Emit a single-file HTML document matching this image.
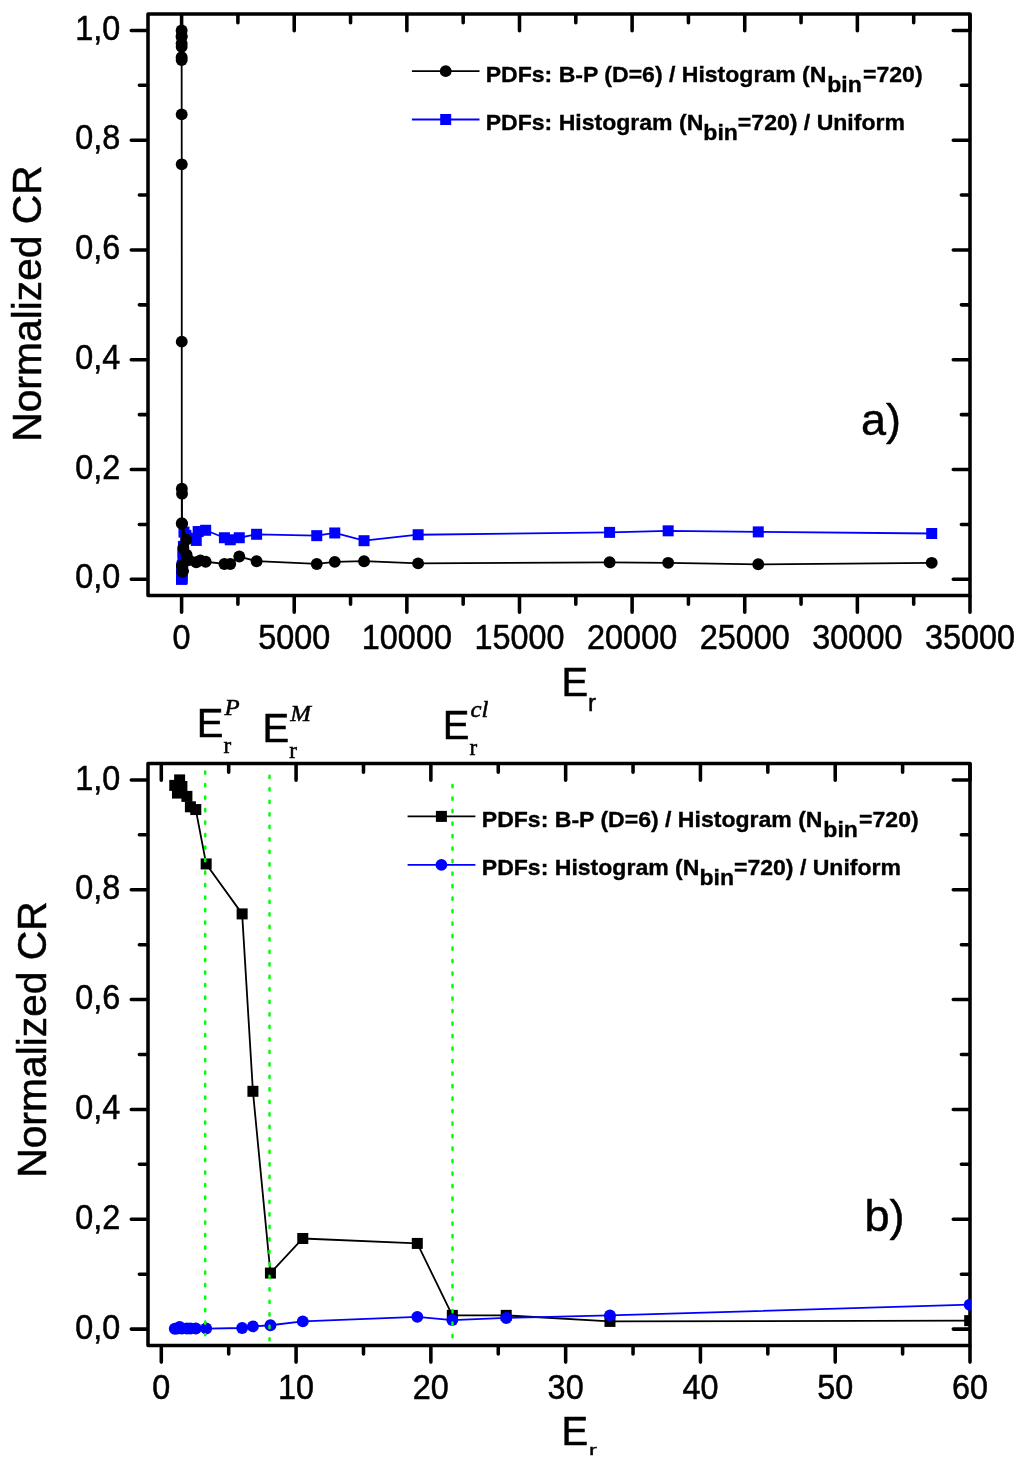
<!DOCTYPE html>
<html lang="en"><head><meta charset="utf-8"><title>Normalized CR vs E_r</title>
<style>html,body{margin:0;padding:0;background:#fff}svg{display:block}</style></head><body>
<svg width="1024" height="1462" viewBox="0 0 1024 1462">
<rect width="1024" height="1462" fill="#fff"/>
<defs><clipPath id="c1"><rect x="148.0" y="14.05" width="822.0" height="581.45"/></clipPath>
<clipPath id="c2"><rect x="148.0" y="763.5" width="822.9" height="581.9000000000001"/></clipPath></defs>
<g clip-path="url(#c1)">
<polyline points="181.62,578.92 181.63,578.75 181.63,577.1 181.63,578.75 181.64,578.75 181.65,578.75 181.66,578.75 181.68,578.75 181.74,578.2 181.75,576.56 181.78,575.46 181.84,571.62 182.03,567.06 182.09,570.24 182.18,568.16 182.35,565.58 182.95,554.93 183.13,551.85 183.42,546.37 183.97,532.09 185.88,535.39 187.37,538.13 196.24,540.44 198.16,531.55 205.66,530.28 224.4,537.75 230.26,539.78 239.27,537.75 256.61,534.29 316.75,535.66 334.77,532.97 364.06,540.71 418.12,534.73 609.59,532.37 668.16,530.83 758.26,531.88 931.71,533.52" fill="none" stroke="#0000ff" stroke-width="1.8" stroke-linejoin="round"/>
<g fill="#0000ff"><rect x="176.12" y="573.42" width="11" height="11"/><rect x="176.13" y="573.25" width="11" height="11"/><rect x="176.13" y="571.6" width="11" height="11"/><rect x="176.13" y="573.25" width="11" height="11"/><rect x="176.14" y="573.25" width="11" height="11"/><rect x="176.15" y="573.25" width="11" height="11"/><rect x="176.16" y="573.25" width="11" height="11"/><rect x="176.18" y="573.25" width="11" height="11"/><rect x="176.24" y="572.7" width="11" height="11"/><rect x="176.25" y="571.06" width="11" height="11"/><rect x="176.28" y="569.96" width="11" height="11"/><rect x="176.34" y="566.12" width="11" height="11"/><rect x="176.53" y="561.56" width="11" height="11"/><rect x="176.59" y="564.74" width="11" height="11"/><rect x="176.68" y="562.66" width="11" height="11"/><rect x="176.85" y="560.08" width="11" height="11"/><rect x="177.45" y="549.43" width="11" height="11"/><rect x="177.63" y="546.35" width="11" height="11"/><rect x="177.92" y="540.87" width="11" height="11"/><rect x="178.47" y="526.59" width="11" height="11"/><rect x="180.38" y="529.89" width="11" height="11"/><rect x="181.87" y="532.63" width="11" height="11"/><rect x="190.74" y="534.94" width="11" height="11"/><rect x="192.66" y="526.05" width="11" height="11"/><rect x="200.16" y="524.78" width="11" height="11"/><rect x="218.9" y="532.25" width="11" height="11"/><rect x="224.76" y="534.28" width="11" height="11"/><rect x="233.77" y="532.25" width="11" height="11"/><rect x="251.11" y="528.79" width="11" height="11"/><rect x="311.25" y="530.16" width="11" height="11"/><rect x="329.27" y="527.47" width="11" height="11"/><rect x="358.56" y="535.21" width="11" height="11"/><rect x="412.62" y="529.23" width="11" height="11"/><rect x="604.09" y="526.87" width="11" height="11"/><rect x="662.66" y="525.33" width="11" height="11"/><rect x="752.76" y="526.38" width="11" height="11"/><rect x="926.21" y="528.02" width="11" height="11"/></g>
</g>
<g clip-path="url(#c1)">
<polyline points="181.62,35.89 181.63,43.57 181.63,30.4 181.63,36.99 181.64,46.87 181.65,57.3 181.66,60.04 181.68,114.38 181.74,164.33 181.75,341.63 181.78,523.31 181.84,488.73 182.03,493.67 182.09,565.58 182.18,565.58 182.35,571.62 182.95,570.85 182.39,566.4 183.36,548.01 182.05,523.86 186.24,539.78 186.56,554.6 182.61,571.62 189.1,560.09 196.24,562.28 200.41,560.36 205.66,561.74 224.4,563.93 230.26,563.93 239.27,556.52 256.61,561.19 316.75,563.93 334.77,561.84 364.06,561.19 418.12,563.38 609.59,562.28 668.16,562.83 758.26,564.32 931.71,562.83" fill="none" stroke="#000" stroke-width="1.8" stroke-linejoin="round"/>
<g fill="#000"><circle cx="181.62" cy="35.89" r="5.95"/><circle cx="181.63" cy="43.57" r="5.95"/><circle cx="181.63" cy="30.4" r="5.95"/><circle cx="181.63" cy="36.99" r="5.95"/><circle cx="181.64" cy="46.87" r="5.95"/><circle cx="181.65" cy="57.3" r="5.95"/><circle cx="181.66" cy="60.04" r="5.95"/><circle cx="181.68" cy="114.38" r="5.95"/><circle cx="181.74" cy="164.33" r="5.95"/><circle cx="181.75" cy="341.63" r="5.95"/><circle cx="181.78" cy="523.31" r="5.95"/><circle cx="181.84" cy="488.73" r="5.95"/><circle cx="182.03" cy="493.67" r="5.95"/><circle cx="182.09" cy="565.58" r="5.95"/><circle cx="182.18" cy="565.58" r="5.95"/><circle cx="182.35" cy="571.62" r="5.95"/><circle cx="182.95" cy="570.85" r="5.95"/><circle cx="182.39" cy="566.4" r="5.95"/><circle cx="183.36" cy="548.01" r="5.95"/><circle cx="182.05" cy="523.86" r="5.95"/><circle cx="186.24" cy="539.78" r="5.95"/><circle cx="186.56" cy="554.6" r="5.95"/><circle cx="182.61" cy="571.62" r="5.95"/><circle cx="189.1" cy="560.09" r="5.95"/><circle cx="196.24" cy="562.28" r="5.95"/><circle cx="200.41" cy="560.36" r="5.95"/><circle cx="205.66" cy="561.74" r="5.95"/><circle cx="224.4" cy="563.93" r="5.95"/><circle cx="230.26" cy="563.93" r="5.95"/><circle cx="239.27" cy="556.52" r="5.95"/><circle cx="256.61" cy="561.19" r="5.95"/><circle cx="316.75" cy="563.93" r="5.95"/><circle cx="334.77" cy="561.84" r="5.95"/><circle cx="364.06" cy="561.19" r="5.95"/><circle cx="418.12" cy="563.38" r="5.95"/><circle cx="609.59" cy="562.28" r="5.95"/><circle cx="668.16" cy="562.83" r="5.95"/><circle cx="758.26" cy="564.32" r="5.95"/><circle cx="931.71" cy="562.83" r="5.95"/></g>
</g>
<rect x="148" y="14.05" width="822" height="581.45" fill="none" stroke="#000" stroke-width="3.55" stroke-linejoin="round"/>
<path d="M147.4 579.3h-16.12M969.4 579.3h-16.12M147.4 469.52h-16.12M969.4 469.52h-16.12M147.4 359.74h-16.12M969.4 359.74h-16.12M147.4 249.96h-16.12M969.4 249.96h-16.12M147.4 140.18h-16.12M969.4 140.18h-16.12M147.4 30.4h-16.12M969.4 30.4h-16.12M147.4 524.41h-8.03M969.4 524.41h-8.03M147.4 414.63h-8.03M969.4 414.63h-8.03M147.4 304.85h-8.03M969.4 304.85h-8.03M147.4 195.07h-8.03M969.4 195.07h-8.03M147.4 85.29h-8.03M969.4 85.29h-8.03M181.6 596.1v16.12M181.6 14.65v16.12M294.23 596.1v16.12M294.23 14.65v16.12M406.86 596.1v16.12M406.86 14.65v16.12M519.49 596.1v16.12M519.49 14.65v16.12M632.11 596.1v16.12M632.11 14.65v16.12M744.74 596.1v16.12M744.74 14.65v16.12M857.37 596.1v16.12M857.37 14.65v16.12M970 596.1v16.12M970 14.65v16.12M237.91 596.1v8.03M237.91 14.65v8.03M350.54 596.1v8.03M350.54 14.65v8.03M463.17 596.1v8.03M463.17 14.65v8.03M575.8 596.1v8.03M575.8 14.65v8.03M688.43 596.1v8.03M688.43 14.65v8.03M801.06 596.1v8.03M801.06 14.65v8.03M913.69 596.1v8.03M913.69 14.65v8.03" fill="none" stroke="#000" stroke-width="3.55" stroke-linecap="round"/>
<g font-family='"Liberation Sans", Arial, Helvetica, sans-serif' font-size="34.2" fill="#000" stroke="#000" stroke-width=".5">
<g text-anchor="end">
<text transform="translate(120.2 588.4) scale(.948 1)">0,0</text>
<text transform="translate(120.2 478.62) scale(.948 1)">0,2</text>
<text transform="translate(120.2 368.84) scale(.948 1)">0,4</text>
<text transform="translate(120.2 259.06) scale(.948 1)">0,6</text>
<text transform="translate(120.2 149.28) scale(.948 1)">0,8</text>
<text transform="translate(120.2 39.5) scale(.948 1)">1,0</text>
</g><g text-anchor="middle">
<text transform="translate(181.6 649.2) scale(.948 1)">0</text>
<text transform="translate(294.23 649.2) scale(.948 1)">5000</text>
<text transform="translate(406.86 649.2) scale(.948 1)">10000</text>
<text transform="translate(519.49 649.2) scale(.948 1)">15000</text>
<text transform="translate(632.11 649.2) scale(.948 1)">20000</text>
<text transform="translate(744.74 649.2) scale(.948 1)">25000</text>
<text transform="translate(857.37 649.2) scale(.948 1)">30000</text>
<text transform="translate(970 649.2) scale(.948 1)">35000</text>
</g></g>
<line x1="411.9" y1="71.2" x2="479.5" y2="71.2" stroke="#000" stroke-width="1.8"/>
<circle cx="445.7" cy="71.2" r="5.9" fill="#000"/>
<line x1="411.9" y1="119.5" x2="479.5" y2="119.5" stroke="#0000ff" stroke-width="1.8"/>
<rect x="440.2" y="114" width="11" height="11" fill="#0000ff"/>
<g font-family='"Liberation Sans", Arial, Helvetica, sans-serif' font-size="22.6" font-weight="bold" fill="#000" stroke="#000" stroke-width=".35">
<text transform="translate(485.7 81.7) scale(1.02 1)">PDFs: B-P (D=6) / Histogram (N<tspan dy="10" dx="0.8">bin</tspan><tspan dy="-10" dx="1.2">=720)</tspan></text>
<text transform="translate(485.7 130.1) scale(1.02 1)">PDFs: Histogram (N<tspan dy="10">bin</tspan><tspan dy="-10">=720) / Uniform</tspan></text>
</g>
<rect x="148" y="763.5" width="822" height="581.9" fill="none" stroke="#000" stroke-width="3.55" stroke-linejoin="round"/>
<path d="M147.4 1329.1h-16.12M969.4 1329.1h-16.12M147.4 1219.26h-16.12M969.4 1219.26h-16.12M147.4 1109.42h-16.12M969.4 1109.42h-16.12M147.4 999.58h-16.12M969.4 999.58h-16.12M147.4 889.74h-16.12M969.4 889.74h-16.12M147.4 779.9h-16.12M969.4 779.9h-16.12M147.4 1274.18h-8.03M969.4 1274.18h-8.03M147.4 1164.34h-8.03M969.4 1164.34h-8.03M147.4 1054.5h-8.03M969.4 1054.5h-8.03M147.4 944.66h-8.03M969.4 944.66h-8.03M147.4 834.82h-8.03M969.4 834.82h-8.03M161.3 1346v16.12M161.3 764.1v16.12M296.08 1346v16.12M296.08 764.1v16.12M430.87 1346v16.12M430.87 764.1v16.12M565.65 1346v16.12M565.65 764.1v16.12M700.43 1346v16.12M700.43 764.1v16.12M835.22 1346v16.12M835.22 764.1v16.12M970 1346v16.12M970 764.1v16.12M228.69 1346v8.03M228.69 764.1v8.03M363.48 1346v8.03M363.48 764.1v8.03M498.26 1346v8.03M498.26 764.1v8.03M633.04 1346v8.03M633.04 764.1v8.03M767.83 1346v8.03M767.83 764.1v8.03M902.61 1346v8.03M902.61 764.1v8.03" fill="none" stroke="#000" stroke-width="3.55" stroke-linecap="round"/>
<g font-family='"Liberation Sans", Arial, Helvetica, sans-serif' font-size="34.2" fill="#000" stroke="#000" stroke-width=".5">
<g text-anchor="end">
<text transform="translate(120.2 1338.7) scale(.948 1)">0,0</text>
<text transform="translate(120.2 1228.86) scale(.948 1)">0,2</text>
<text transform="translate(120.2 1119.02) scale(.948 1)">0,4</text>
<text transform="translate(120.2 1009.18) scale(.948 1)">0,6</text>
<text transform="translate(120.2 899.34) scale(.948 1)">0,8</text>
<text transform="translate(120.2 789.5) scale(.948 1)">1,0</text>
</g><g text-anchor="middle">
<text transform="translate(161.3 1399.3) scale(.948 1)">0</text>
<text transform="translate(296.08 1399.3) scale(.948 1)">10</text>
<text transform="translate(430.87 1399.3) scale(.948 1)">20</text>
<text transform="translate(565.65 1399.3) scale(.948 1)">30</text>
<text transform="translate(700.43 1399.3) scale(.948 1)">40</text>
<text transform="translate(835.22 1399.3) scale(.948 1)">50</text>
<text transform="translate(970 1399.3) scale(.948 1)">60</text>
</g></g>
<g clip-path="url(#c2)">
<polyline points="174.77,785.39 177.47,793.08 179.62,779.9 181.91,786.49 186.9,796.38 190.4,806.81 195.79,809.56 206.17,863.93 242.14,913.9 252.92,1091.3 270.43,1273.08 302.77,1238.48 417.29,1243.42 452.32,1315.37 506.22,1315.37 609.96,1321.41 969.7,1320.64" fill="none" stroke="#000" stroke-width="1.8" stroke-linejoin="round"/>
<g fill="#000"><rect x="169.27" y="779.89" width="11" height="11"/><rect x="171.97" y="787.58" width="11" height="11"/><rect x="174.12" y="774.4" width="11" height="11"/><rect x="176.41" y="780.99" width="11" height="11"/><rect x="181.4" y="790.88" width="11" height="11"/><rect x="184.9" y="801.31" width="11" height="11"/><rect x="190.29" y="804.06" width="11" height="11"/><rect x="200.67" y="858.43" width="11" height="11"/><rect x="236.64" y="908.4" width="11" height="11"/><rect x="247.42" y="1085.8" width="11" height="11"/><rect x="264.93" y="1267.58" width="11" height="11"/><rect x="297.27" y="1232.98" width="11" height="11"/><rect x="411.79" y="1237.92" width="11" height="11"/><rect x="446.82" y="1309.87" width="11" height="11"/><rect x="500.72" y="1309.87" width="11" height="11"/><rect x="604.46" y="1315.91" width="11" height="11"/><rect x="964.2" y="1315.14" width="11" height="11"/></g>
</g>
<g clip-path="url(#c2)">
<polyline points="174.77,1328.72 177.47,1328.55 179.62,1326.9 181.91,1328.55 186.9,1328.55 190.4,1328.55 195.79,1328.55 206.17,1328.55 242.14,1328 252.92,1326.35 270.43,1325.26 302.77,1321.41 417.29,1316.85 452.32,1320.04 506.22,1317.95 609.96,1315.37 969.7,1304.72" fill="none" stroke="#0000ff" stroke-width="1.8" stroke-linejoin="round"/>
<g fill="#0000ff"><circle cx="174.77" cy="1328.72" r="5.95"/><circle cx="177.47" cy="1328.55" r="5.95"/><circle cx="179.62" cy="1326.9" r="5.95"/><circle cx="181.91" cy="1328.55" r="5.95"/><circle cx="186.9" cy="1328.55" r="5.95"/><circle cx="190.4" cy="1328.55" r="5.95"/><circle cx="195.79" cy="1328.55" r="5.95"/><circle cx="206.17" cy="1328.55" r="5.95"/><circle cx="242.14" cy="1328" r="5.95"/><circle cx="252.92" cy="1326.35" r="5.95"/><circle cx="270.43" cy="1325.26" r="5.95"/><circle cx="302.77" cy="1321.41" r="5.95"/><circle cx="417.29" cy="1316.85" r="5.95"/><circle cx="452.32" cy="1320.04" r="5.95"/><circle cx="506.22" cy="1317.95" r="5.95"/><circle cx="609.96" cy="1315.37" r="5.95"/><circle cx="969.7" cy="1304.72" r="5.95"/></g>
</g>
<line x1="407.6" y1="816.4" x2="475.4" y2="816.4" stroke="#000" stroke-width="1.8"/>
<rect x="435.9" y="810.9" width="11" height="11" fill="#000"/>
<line x1="407.6" y1="864.8" x2="475.4" y2="864.8" stroke="#0000ff" stroke-width="1.8"/>
<circle cx="441.4" cy="864.8" r="5.9" fill="#0000ff"/>
<g font-family='"Liberation Sans", Arial, Helvetica, sans-serif' font-size="22.6" font-weight="bold" fill="#000" stroke="#000" stroke-width=".35">
<text transform="translate(481.8 826.5) scale(1.02 1)">PDFs: B-P (D=6) / Histogram (N<tspan dy="10" dx="0.8">bin</tspan><tspan dy="-10" dx="1.2">=720)</tspan></text>
<text transform="translate(481.8 874.9) scale(1.02 1)">PDFs: Histogram (N<tspan dy="10">bin</tspan><tspan dy="-10">=720) / Uniform</tspan></text>
</g>
<line x1="205.2" y1="771.45" x2="205.2" y2="1335.25" stroke="#00ff00" stroke-width="2.5" stroke-linecap="round" stroke-dasharray="2.3 10.2"/>
<line x1="269.5" y1="775.65" x2="269.5" y2="1340.25" stroke="#00ff00" stroke-width="2.5" stroke-linecap="round" stroke-dasharray="2.3 10.2"/>
<line x1="452.5" y1="785.05" x2="452.5" y2="1338.25" stroke="#00ff00" stroke-width="2.5" stroke-linecap="round" stroke-dasharray="2.3 10.2"/>
<g font-family='"Liberation Sans", Arial, Helvetica, sans-serif' fill="#000" stroke="#000" stroke-width=".5">
<text transform="translate(40.6 303.5) rotate(-90)" text-anchor="middle" font-size="40.8">Normalized CR</text>
<text transform="translate(46.4 1039.5) rotate(-90)" text-anchor="middle" font-size="40.8">Normalized CR</text>
<text x="861" y="434.5" font-size="45">a)</text>
<text x="864.6" y="1230.7" font-size="45">b)</text>
<text x="561.4" y="695.8" font-size="40">E<tspan dy="15" font-size="24">r</tspan></text>
<text x="561.4" y="1444.8" font-size="40">E</text>
<text transform="translate(588.9 1455.4) scale(1 0.575)" font-size="24">r</text>
<text x="196.8" y="736.9" font-size="40">E</text>
<text x="223.6" y="752.5" font-size="23" font-family='"Liberation Serif", "Times New Roman", Times, serif'>r</text>
<text transform="translate(224.6 715.1) scale(1.08 1)" font-size="23" font-style="italic" font-family='"Liberation Serif", "Times New Roman", Times, serif'>P</text>
<text x="262.5" y="742.3" font-size="40">E</text>
<text x="289.3" y="757.9" font-size="23" font-family='"Liberation Serif", "Times New Roman", Times, serif'>r</text>
<text transform="translate(290.3 720.5) scale(1.08 1)" font-size="23" font-style="italic" font-family='"Liberation Serif", "Times New Roman", Times, serif'>M</text>
<text x="442.8" y="738.9" font-size="40">E</text>
<text x="469.59999999999997" y="754.5" font-size="23" font-family='"Liberation Serif", "Times New Roman", Times, serif'>r</text>
<text transform="translate(470.6 717.1) scale(1.08 1)" font-size="23" font-style="italic" font-family='"Liberation Serif", "Times New Roman", Times, serif'>cl</text>
</g>
</svg></body></html>
